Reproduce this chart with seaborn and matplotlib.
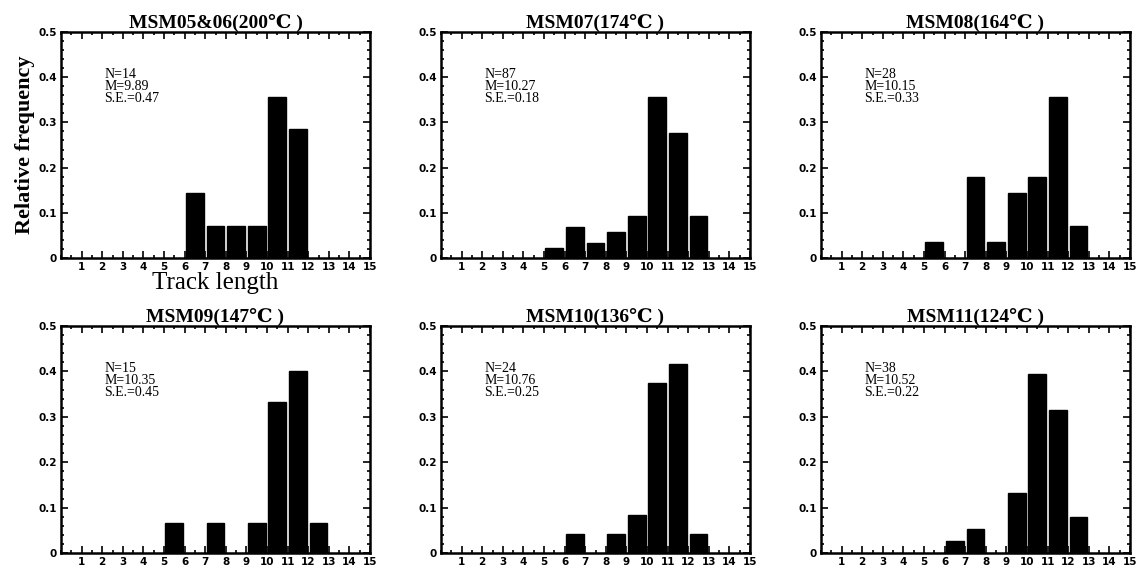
import numpy as np
import pandas as pd
import matplotlib
matplotlib.use("Agg")
import matplotlib.pyplot as plt
import seaborn as sns
from matplotlib.ticker import MultipleLocator

# Track length bins (lower edge, um) and relative frequency per sample
titles = ["MSM05&06(200℃ )", "MSM07(174℃ )", "MSM08(164℃ )",
          "MSM09(147℃ )", "MSM10(136℃ )", "MSM11(124℃ )"]
stats_n = ["14", "87", "28", "15", "24", "38"]
stats_m = ["9.89", "10.27", "10.15", "10.35", "10.76", "10.52"]
stats_se = ["0.47", "0.18", "0.33", "0.45", "0.25", "0.22"]

bins_0506 = [6, 7, 8, 9, 10, 11]
freq_0506 = [0.143, 0.071, 0.071, 0.071, 0.357, 0.286]
bins_07 = [5, 6, 7, 8, 9, 10, 11, 12]
freq_07 = [0.023, 0.069, 0.034, 0.057, 0.092, 0.356, 0.276, 0.092]
bins_08 = [5, 7, 8, 9, 10, 11, 12]
freq_08 = [0.036, 0.179, 0.036, 0.143, 0.179, 0.357, 0.071]
bins_09 = [5, 7, 9, 10, 11, 12]
freq_09 = [0.067, 0.067, 0.067, 0.333, 0.400, 0.067]
bins_10 = [6, 8, 9, 10, 11, 12]
freq_10 = [0.042, 0.042, 0.083, 0.375, 0.417, 0.042]
bins_11 = [6, 7, 9, 10, 11, 12]
freq_11 = [0.026, 0.053, 0.132, 0.395, 0.316, 0.079]

all_bins = [bins_0506, bins_07, bins_08, bins_09, bins_10, bins_11]
all_freq = [freq_0506, freq_07, freq_08, freq_09, freq_10, freq_11]

x_ticks = list(range(1, 16))
y_ticks = [0, 0.1, 0.2, 0.3, 0.4, 0.5]
y_labels = ["0", "0.1", "0.2", "0.3", "0.4", "0.5"]

sns.set_style("ticks")
plt.rcParams["font.family"] = ["Liberation Serif", "DejaVu Serif"]
plt.rcParams["text.color"] = "black"
plt.rcParams["axes.labelcolor"] = "black"

fig = plt.figure(figsize=(11.4, 5.69), dpi=100)
W, H = 1140, 569
# axes boxes in pixels: left, top, right, bottom
boxes = [(61, 32, 370, 258), (441, 32, 750, 258), (821, 32, 1130, 258),
         (61, 326, 370, 553), (441, 326, 750, 553), (821, 326, 1130, 553)]

for i, (l, t, r, b) in enumerate(boxes):
    ax = fig.add_axes([l / W, 1 - b / H, (r - l) / W, (b - t) / H])
    df = pd.DataFrame({"center": np.array(all_bins[i]) + 0.5, "freq": all_freq[i]})
    sns.barplot(data=df, x="center", y="freq", native_scale=True, width=0.87,
                color="black", saturation=1, edgecolor="black", ax=ax)
    ax.set_xlim(0, 15)
    ax.set_ylim(0, 0.5)
    ax.set_xticks(x_ticks)
    ax.set_xticklabels([str(v) for v in x_ticks], family="DejaVu Sans",
                       fontsize=7.5, fontweight="bold")
    ax.set_yticks(y_ticks)
    ax.set_yticklabels(y_labels, family="DejaVu Sans", fontsize=7.5, fontweight="bold")
    ax.xaxis.set_minor_locator(MultipleLocator(0.5))
    ax.yaxis.set_minor_locator(MultipleLocator(0.02))
    ax.tick_params(which="both", direction="in", top=True, right=True, width=1.2,
                   color="black", labelcolor="black")
    ax.tick_params(which="major", length=5, pad=3)
    ax.tick_params(which="minor", length=2.5)
    for s in ax.spines.values():
        s.set_linewidth(1.8)
        s.set_color("black")
    ax.set_xlabel("")
    ax.set_ylabel("")
    ax.set_title(titles[i], fontsize=14, fontweight="bold", pad=3, color="black")
    ax.text(0.14, 0.84, f"N={stats_n[i]}\nM={stats_m[i]}\nS.E.={stats_se[i]}",
            transform=ax.transAxes, fontsize=10, va="top", ha="left", linespacing=0.9,
            color="black")
    if i == 0:
        ax.set_ylabel("Relative frequency", fontsize=16, fontweight="bold", labelpad=2,
                      color="black")
        ax.set_xlabel("Track length", fontsize=18, labelpad=0, color="black")

fig.savefig("out.png", dpi=100, facecolor="white")
